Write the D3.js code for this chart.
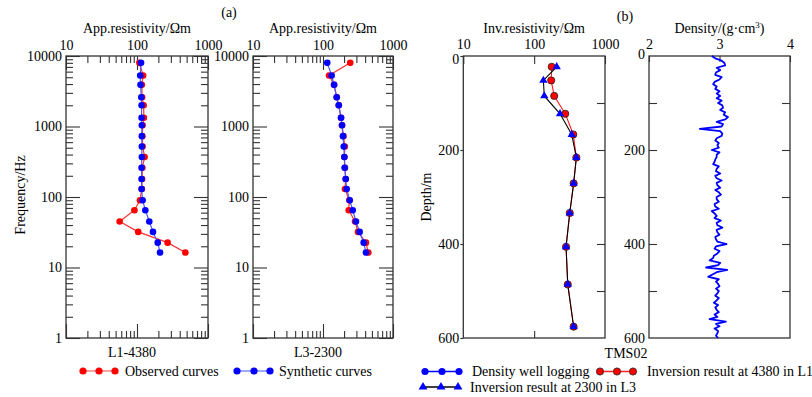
<!DOCTYPE html>
<html><head><meta charset="utf-8">
<script src="https://cdn.jsdelivr.net/npm/d3@7"></script>
<style>
body{margin:0;background:#fff;}
svg text{font-family:"Liberation Serif","Times New Roman",serif !important;fill:#000;}
</style></head>
<body><svg id="c" width="812" height="397"></svg>
<script>
// ---------- data ----------
const freqs = [8000, 5300, 3900, 2600, 2000, 1330, 1040, 730, 520, 370, 260, 180, 130, 90, 65, 45, 32, 22.5, 16.3];
const l1Observed  = [108, 122, 117, 118, 124, 125, 120, 119, 120, 128, 119, 118, 117, 110, 92, 57, 104, 270, 480];
const l1Synthetic = [114, 111, 112, 115, 116, 116, 117, 117, 117, 117, 116, 116, 116, 120, 131, 149, 168, 196, 211];
const l3Observed  = [245, 122, 144, 157, 168, 181, 187, 196, 205, 202, 206, 211, 206, 238, 233, 287, 316, 411, 444];
const l3Synthetic = [115, 133, 144, 157, 168, 181, 187, 193, 198, 202, 204, 211, 218, 241, 266, 296, 334, 381, 411];

const invDepth = [23, 52, 85, 123, 167, 216, 271, 334, 406, 486, 576];
const invL1 = [177, 174, 192, 275, 357, 394, 361, 318, 282, 298, 361];
const invL3 = [208, 135, 139, 232, 339, 394, 361, 318, 282, 298, 361];

const densityStep = 5; // m, sampling of the log values below (0..600 m)
const density = [
 2.89,2.94,3.03,3.07,3.08,2.96,3.01,2.95,2.94,3.03,
 3.00,2.93,2.91,2.96,2.94,3.00,2.96,3.01,2.96,3.03,
 2.98,3.04,3.05,3.01,3.08,3.06,3.12,3.08,2.96,3.05,
 3.03,2.72,3.01,3.04,3.03,2.96,2.94,2.99,2.97,2.99,
 2.89,3.00,2.96,2.96,2.94,2.93,2.91,2.99,2.96,2.95,
 3.01,2.94,2.96,3.03,2.96,2.97,3.01,2.94,2.99,3.02,
 2.96,2.96,2.99,2.93,2.94,2.99,2.89,2.93,2.96,2.93,
 3.02,2.96,2.97,3.04,2.96,2.97,3.00,2.94,2.95,2.97,
 3.10,2.95,2.93,3.00,2.97,2.92,2.91,2.86,3.01,2.98,
 2.81,3.11,2.96,2.90,2.84,2.99,2.95,2.98,3.00,2.95,
 2.99,2.97,2.94,2.99,2.96,2.92,2.98,2.94,2.96,2.99,
 2.93,2.97,2.86,3.09,2.95,3.00,2.93,2.98,2.97,2.95,
 2.98];

const resTicks = [10, 100, 1000];
const freqTicks = [1, 10, 100, 1000, 10000];
const depthTicks = [0, 200, 400, 600];
const densTicks = [2, 3, 4];

// ---------- layout ----------
const svg = d3.select("#c");
const TOP = 56, BOT = 338;
const frameCol = "#333";
const FS = 14;

function minorLog(lo, hi){
  const out=[];
  for(let d=lo; d<hi; d*=10) for(let m=2;m<=9;m++) out.push(d*m);
  return out;
}
function styleAxis(g){
  g.attr("font-family",null).attr("font-size",null);
  g.select(".domain").remove();
  g.selectAll("line").attr("stroke", frameCol).attr("stroke-width",1.1);
  g.selectAll("text").attr("font-size",FS).attr("fill","#000");
  return g;
}
function frame(x0,x1){
  svg.append("rect").attr("x",x0).attr("y",TOP).attr("width",x1-x0).attr("height",BOT-TOP)
    .attr("fill","none").attr("stroke",frameCol).attr("stroke-width",1.3);
}
function text(x,y,s,anchor,size){
  return svg.append("text").attr("x",x).attr("y",y).attr("text-anchor",anchor||"middle")
    .attr("font-size",size||FS).text(s);
}

// ---------- panels (a) ----------
function freqPanel(x0,x1,obs,syn,bottomLabel){
  const x = d3.scaleLog().domain([10,1000]).range([x0,x1]);
  const y = d3.scaleLog().domain([1,10000]).range([BOT,TOP]);
  const minX = minorLog(10,1000), minY = minorLog(1,10000);
  styleAxis(svg.append("g").attr("transform",`translate(0,${TOP})`)
    .call(d3.axisTop(x).tickValues(resTicks).tickSize(-14).tickPadding(6).tickFormat(d3.format("d"))));
  styleAxis(svg.append("g").attr("transform",`translate(0,${TOP})`)
    .call(d3.axisTop(x).tickValues(minX).tickSize(-7).tickFormat("")));
  styleAxis(svg.append("g").attr("transform",`translate(0,${BOT})`)
    .call(d3.axisBottom(x).tickValues(resTicks).tickSize(-14).tickFormat("")));
  styleAxis(svg.append("g").attr("transform",`translate(0,${BOT})`)
    .call(d3.axisBottom(x).tickValues(minX).tickSize(-7).tickFormat("")));
  styleAxis(svg.append("g").attr("transform",`translate(${x0},0)`)
    .call(d3.axisLeft(y).tickValues(freqTicks).tickSize(-14).tickPadding(4).tickFormat(d3.format("d"))));
  styleAxis(svg.append("g").attr("transform",`translate(${x0},0)`)
    .call(d3.axisLeft(y).tickValues(minY).tickSize(-7).tickFormat("")));
  styleAxis(svg.append("g").attr("transform",`translate(${x1},0)`)
    .call(d3.axisRight(y).tickValues(freqTicks).tickSize(-14).tickFormat("")));
  styleAxis(svg.append("g").attr("transform",`translate(${x1},0)`)
    .call(d3.axisRight(y).tickValues(minY).tickSize(-7).tickFormat("")));
  frame(x0,x1);
  const line = d3.line().x(d=>x(d[0])).y(d=>y(d[1]));
  const o = obs.map((v,i)=>[v,freqs[i]]), s = syn.map((v,i)=>[v,freqs[i]]);
  svg.append("path").attr("d",line(o)).attr("fill","none").attr("stroke","#ff3030").attr("stroke-width",1.2);
  svg.append("g").selectAll("circle").data(o).join("circle")
    .attr("cx",d=>x(d[0])).attr("cy",d=>y(d[1])).attr("r",3.3).attr("fill","#ff0000");
  svg.append("path").attr("d",line(s)).attr("fill","none").attr("stroke","#4a5cff").attr("stroke-width",1.2);
  svg.append("g").selectAll("circle").data(s).join("circle")
    .attr("cx",d=>x(d[0])).attr("cy",d=>y(d[1])).attr("r",3.3).attr("fill","#0000ff");
  text((x0+x1)/2,33,"App.resistivity/Ωm");
  text((x0+x1)/2-5,357,bottomLabel);
}
freqPanel(66,208,l1Observed,l1Synthetic,"L1-4380");
freqPanel(253,393,l3Observed,l3Synthetic,"L3-2300");
text(22,195,"Frequency/Hz").attr("transform","rotate(-90,22,195)").attr("dominant-baseline","middle");
text(229,17,"(a)");

// legend
function legendRow(xs,y,fill,lineCol,shape,label,tx,stroke){
  svg.append("line").attr("x1",xs[0]).attr("x2",xs[2]).attr("y1",y).attr("y2",y)
    .attr("stroke",lineCol).attr("stroke-width",1.3);
  xs.forEach(cx=>{
    if(shape==="tri"){
      svg.append("path").attr("d",d3.symbol(d3.symbolTriangle,34)()).attr("transform",`translate(${cx},${y})`)
        .attr("fill",fill);
    } else {
      svg.append("circle").attr("cx",cx).attr("cy",y).attr("r",3.6).attr("fill",fill)
        .attr("stroke",stroke||"none").attr("stroke-width",0.8);
    }
  });
  text(tx,y+4.5,label,"start");
}
legendRow([83,99,115],371,"#ff0000","#ff6b6b","circle","Observed curves",125);
legendRow([237,254,270],371,"#0000ff","#7b8cff","circle","Synthetic curves",279);

// ---------- panel (b) inversion ----------
{
  const x0=463.3,x1=605;
  const x = d3.scaleLog().domain([10,1000]).range([x0,x1]);
  const y = d3.scaleLinear().domain([0,600]).range([TOP,BOT]);
  styleAxis(svg.append("g").attr("transform",`translate(0,${TOP})`)
    .call(d3.axisTop(x).tickValues(resTicks).tickSize(-8).tickPadding(7).tickFormat(d3.format("d"))));
  styleAxis(svg.append("g").attr("transform",`translate(0,${BOT})`)
    .call(d3.axisBottom(x).tickValues([100]).tickSize(-7).tickFormat("")));
  const ly = styleAxis(svg.append("g").attr("transform",`translate(${x0},0)`)
    .call(d3.axisLeft(y).tickValues(depthTicks).tickSize(3).tickPadding(1).tickFormat(d3.format("d"))));
  ly.selectAll(".tick").filter(d=>d===0).select("text").attr("dy","0.5em");
  styleAxis(svg.append("g").attr("transform",`translate(${x1},0)`)
    .call(d3.axisRight(y).tickValues([100,200,300,400,500]).tickSize(-8).tickFormat("")));
  frame(x0,x1);
  const line = d3.line().x(d=>x(d[0])).y(d=>y(d[1]));
  const a = invL1.map((v,i)=>[v,invDepth[i]]), b = invL3.map((v,i)=>[v,invDepth[i]]);
  svg.append("path").attr("d",line(a)).attr("fill","none").attr("stroke","#ff2020").attr("stroke-width",1.1);
  svg.append("path").attr("d",line(b)).attr("fill","none").attr("stroke","#000").attr("stroke-width",1.1);
  svg.append("g").selectAll("circle").data(a).join("circle")
    .attr("cx",d=>x(d[0])).attr("cy",d=>y(d[1])).attr("r",3.6).attr("fill","#ff0000")
    .attr("stroke","#222").attr("stroke-width",0.8);
  svg.append("g").selectAll("path").data(b).join("path")
    .attr("d",d3.symbol(d3.symbolTriangle,30)()).attr("transform",d=>`translate(${x(d[0])},${y(d[1])})`)
    .attr("fill","#0000ff");
  text((x0+x1)/2,33,"Inv.resistivity/Ωm");
  text(428,197,"Depth/m").attr("transform","rotate(-90,428,197)").attr("dominant-baseline","middle");
}

// ---------- panel (b) density ----------
{
  const x0=649,x1=790;
  const x = d3.scaleLinear().domain([2,4]).range([x0,x1]);
  const y = d3.scaleLinear().domain([0,600]).range([TOP,BOT]);
  styleAxis(svg.append("g").attr("transform",`translate(0,${TOP})`)
    .call(d3.axisTop(x).tickValues(densTicks).tickSize(-6).tickPadding(7).tickFormat(d3.format("d"))));
  const ly = styleAxis(svg.append("g").attr("transform",`translate(${x0},0)`)
    .call(d3.axisLeft(y).tickValues(depthTicks).tickSize(0).tickPadding(4).tickFormat(d3.format("d"))));
  ly.selectAll(".tick").filter(d=>d===0).select("text").attr("dy","0.2em");
  styleAxis(svg.append("g").attr("transform",`translate(${x0},0)`)
    .call(d3.axisLeft(y).tickValues([100,200,300,400,500]).tickSize(-8).tickFormat("")));
  styleAxis(svg.append("g").attr("transform",`translate(${x1},0)`)
    .call(d3.axisRight(y).tickValues([100,200,300,400,500]).tickSize(-8).tickFormat("")));
  frame(x0,x1);
  const pts = density.map((v,i)=>[v,i*densityStep]);
  svg.append("path").attr("d",d3.line().x(d=>x(d[0])).y(d=>y(d[1]))(pts))
    .attr("fill","none").attr("stroke","#0000ff").attr("stroke-width",1.8).attr("stroke-linejoin","round");
  const t = text((x0+x1)/2,33,"Density/(g·cm");
  t.append("tspan").attr("baseline-shift","super").attr("font-size",9).text("3");
  t.append("tspan").text(")");
  text(625,21,"(b)");
}
text(626,358,"TMS02");

legendRow([425,442,459],371.5,"#0000ff","#0000ff","circle","Density well logging",472);
legendRow([600,617,633],371.5,"#ff0000","#ff2020","circle","Inversion result at 4380 in L1",647,"#222");
legendRow([423,441,458],387,"#0000ff","#000","tri","Inversion result at 2300 in L3",470);
</script></body></html>
